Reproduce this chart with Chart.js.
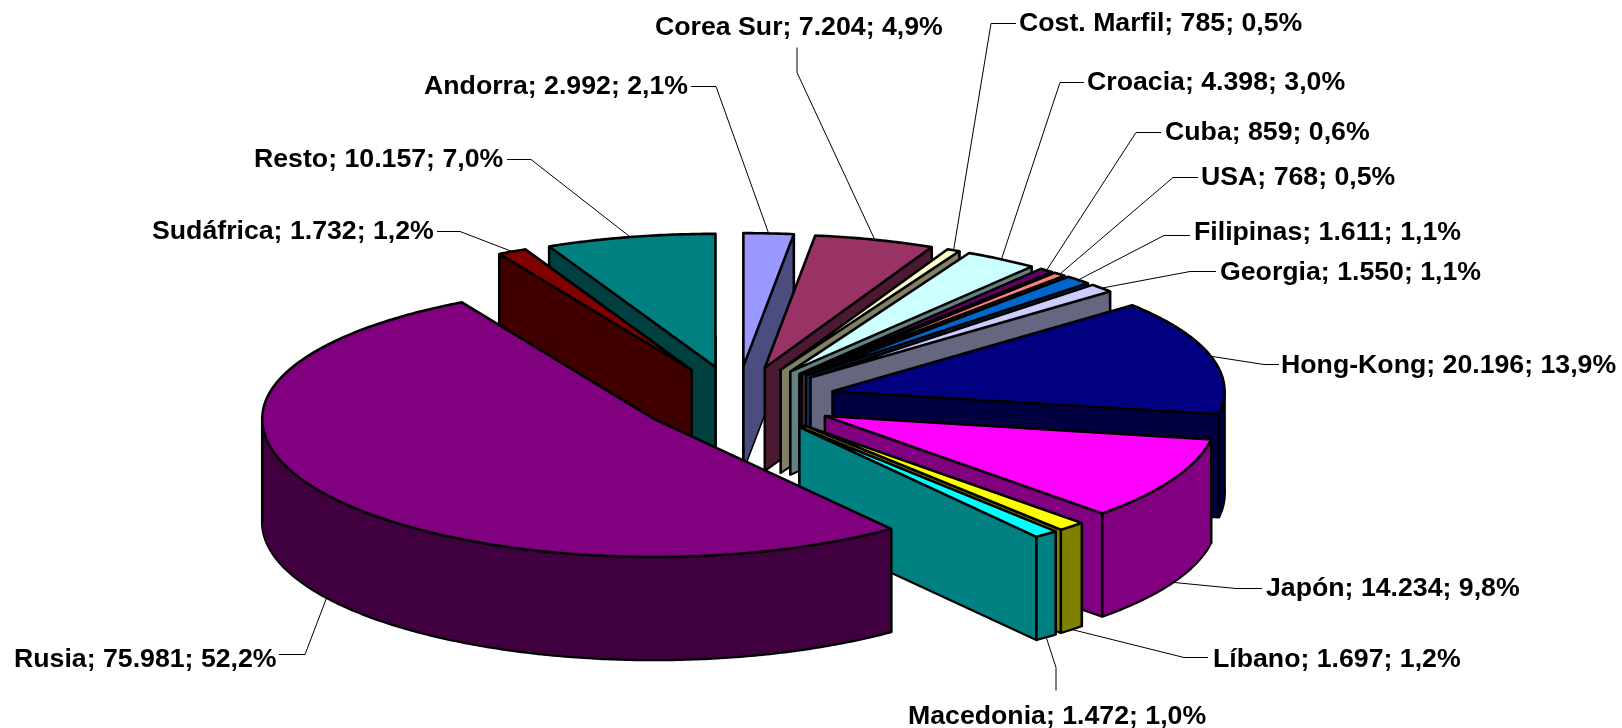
<!DOCTYPE html>
<html><head><meta charset="utf-8">
<style>html,body{margin:0;padding:0;background:#fff}canvas{display:block}</style>
<script src="https://cdn.jsdelivr.net/npm/chart.js@4/dist/chart.umd.js"></script>
</head><body><canvas id="c" width="1622" height="728"></canvas>
<script>
const categories = ["Andorra","Corea Sur","Cost. Marfil","Croacia","Cuba","USA","Filipinas","Georgia","Hong-Kong","Japón","Líbano","Macedonia","Rusia","Sudáfrica","Resto"];
const values = [2992,7204,785,4398,859,768,1611,1550,20196,14234,1697,1472,75981,1732,10157];
const valueLabels = ["2.992","7.204","785","4.398","859","768","1.611","1.550","20.196","14.234","1.697","1.472","75.981","1.732","10.157"];
const percentLabels = ["2,1%","4,9%","0,5%","3,0%","0,6%","0,5%","1,1%","1,1%","13,9%","9,8%","1,2%","1,0%","52,2%","1,2%","7,0%"];
const topColors = ["#9999FF","#993366","#FFFFCC","#CCFFFF","#660066","#FF8080","#0066CC","#CCCCFF","#000080","#FF00FF","#FFFF00","#00FFFF","#800080","#800000","#008080"];
const wallColors = ["#4C4C80","#4C1933","#808066","#668080","#330033","#804040","#003366","#666680","#000040","#800080","#808000","#008080","#400040","#400000","#004040"];

// layout (not data)
const PIE = {cx:737, cy:400, explode:99, R:392, k:0.335, front:1.05, back:1.015, depth:103};
const FONT = 'bold 26.7px "Liberation Sans", Arial, sans-serif';
const labelBox = [[424,86.5],[655,27.5],[1019,23.5],[1087,82.5],[1165,132.5],[1201,177.5],[1194,232.5],[1220,272.5],[1281,365.5],[1266,588.5],[1213,659.5],[908,716.5],[14,659.5],[152,231.5],[254,159.5]];
const leaders = [[691,86,716,86],[797,47,797,72],[1016,23,991,23],[1084,82,1060,82],[1161,132,1136,132],[1198,177,1173,177],[1190,235,1164,235],[1216,271,1190,271],[1279,364,1264,364],[1262,588,1236,588],[1208,657,1184,657],[1056,690,1056,667],[279,654,305,654],[437,231,460,231],[507,159,531,159]];
const drawOrder = [0,1,2,3,4,5,6,7,8,9,10,11,14,13,12];

const pie3d = {
  id:'pie3d',
  beforeDatasetDraw(chart, args){
    const ctx = chart.ctx, arcs = chart.getDatasetMeta(args.index).data;
    const {cx,cy,explode,R,k,front,back,depth} = PIE;
    const py = y => cy+(y-cy)*(y>cy?front:back);
    const rim = (g,t)=>[g.ax+Math.cos(t)*R, py(g.ay0+Math.sin(t)*R*k)];
    const extremes=[-Math.PI,0,Math.PI,2*Math.PI];
    const geo = arcs.map(a=>{
      const p = a.getProps(['startAngle','endAngle']);
      const mid = (p.startAngle+p.endAngle)/2;
      const ay0 = cy+Math.sin(mid)*explode*k;
      return {s:p.startAngle,e:p.endAngle,mid,ay0,ax:cx+Math.cos(mid)*explode,ay:py(ay0)};
    });
    const rimPts = (g,s,e)=>{
      const n=Math.max(4,Math.ceil((e-s)/0.01)), out=[];
      for(let j=0;j<=n;j++) out.push(rim(g,s+(e-s)*j/n));
      return out;
    };
    const poly = pts=>{
      ctx.beginPath();
      pts.forEach((q,j)=>j?ctx.lineTo(q[0],q[1]):ctx.moveTo(q[0],q[1]));
      ctx.closePath();
    };
    const shift = (pts,dy)=>pts.map(q=>[q[0],q[1]+dy]);
    ctx.save();
    ctx.lineJoin='round';
    ctx.strokeStyle='#000';
    drawOrder.forEach(i=>{
      const g = geo[i], r = rimPts(g,g.s,g.e), a=[g.ax,g.ay];
      const topFace=[a,...r];
      // bottom face outline
      poly(shift(topFace,depth));
      ctx.fillStyle=wallColors[i]; ctx.fill();
      ctx.lineWidth=2.6; ctx.stroke();
      // cut walls of the slice
      const first=r[0], last=r[r.length-1];
      poly([a,first,[first[0],first[1]+depth-1],[a[0],a[1]+depth-1]]); ctx.fill();
      poly([a,last,[last[0],last[1]+depth-1],[a[0],a[1]+depth-1]]); ctx.fill();
      // outer wall, split where the rim turns back horizontally
      const inner=extremes.filter(t=>t>g.s&&t<g.e);
      const cuts=[g.s,...inner,g.e];
      for(let c=0;c<cuts.length-1;c++){
        const seg=rimPts(g,cuts[c],cuts[c+1]);
        poly([...seg,...shift(seg,depth-1).reverse()]); ctx.fill();
      }
      // visible vertical edges
      const startFace=Math.cos(g.s)<0, endFace=Math.cos(g.e)>0;
      const pts=[];
      if(startFace||endFace) pts.push(a);
      if(startFace||Math.sin(g.s)>0) pts.push(first);
      if(endFace||Math.sin(g.e)>0) pts.push(last);
      inner.forEach(t=>pts.push(rim(g,t)));
      ctx.beginPath();
      pts.forEach(p=>{ctx.moveTo(p[0],p[1]);ctx.lineTo(p[0],p[1]+depth);});
      ctx.stroke();
      poly(topFace);
      ctx.fillStyle=topColors[i]; ctx.fill(); ctx.stroke();
    });
    // leaders + labels
    ctx.lineWidth=1;
    ctx.fillStyle='#000'; ctx.font=FONT; ctx.textBaseline='middle'; ctx.textAlign='left';
    geo.forEach((g,i)=>{
      const l=leaders[i];
      const q=rim(g,g.mid);
      const y=q[1]+(Math.sin(g.mid)>0?depth:0);
      ctx.beginPath();
      ctx.moveTo(l[0],l[1]+.5);ctx.lineTo(l[2],l[3]+.5);ctx.lineTo(q[0],y);ctx.stroke();
      ctx.fillText(categories[i]+'; '+valueLabels[i]+'; '+percentLabels[i],labelBox[i][0],labelBox[i][1]);
    });
    ctx.restore();
    return false;
  }
};

new Chart(document.getElementById('c'),{
  type:'pie',
  data:{labels:categories,datasets:[{data:values,backgroundColor:topColors,borderColor:'#000',borderWidth:2}]},
  options:{responsive:false,animation:false,rotation:0,plugins:{legend:{display:false},tooltip:{enabled:false}}},
  plugins:[pie3d]
});
</script></body></html>
